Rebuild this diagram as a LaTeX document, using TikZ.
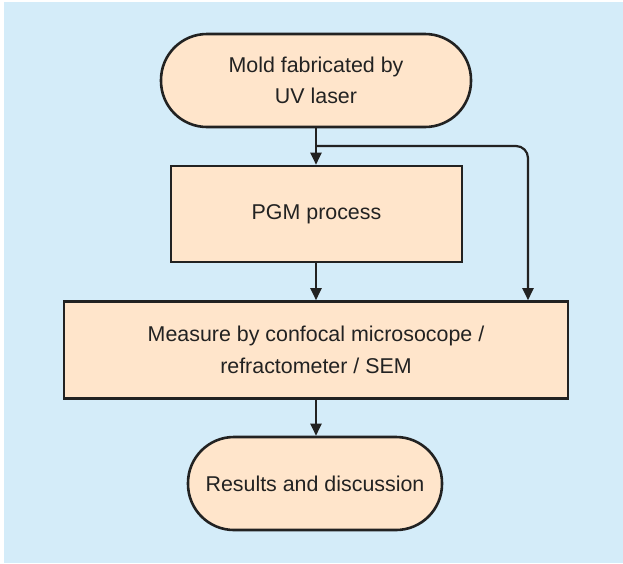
\documentclass[tikz,border=0pt]{standalone}
\usepackage{fontspec}
\setmainfont{Liberation Sans}
\usetikzlibrary{arrows.meta}
\definecolor{bgblue}{HTML}{D4ECF9}
\definecolor{peach}{HTML}{FFE5CB}
\definecolor{ink}{HTML}{222222}
\begin{document}
\begin{tikzpicture}[x=1pt,y=-1pt,
  box/.style={draw=ink,fill=peach,line width=2.6pt,align=center,text=ink,
    font=\fontsize{21.4}{31.5}\selectfont,inner sep=0pt},
  term/.style={box,rounded corners=46pt},
  conn/.style={draw=ink,line width=2.2pt,-{Triangle[width=11pt,length=12pt]}}]
\useasboundingbox (0,0) rectangle (623,563);
\fill[bgblue] (4,2) rectangle (623,563);
\node[term,minimum width=310pt,minimum height=93pt] (mold) at (316,80.5) {Mold fabricated by\\UV laser};
\node[box,minimum width=291pt,minimum height=96pt] (pgm) at (316.5,214) {PGM process};
\node[box,minimum width=504pt,minimum height=97pt] (meas) at (316,350) {Measure by confocal microsocope /\\refractometer / SEM};
\node[term,minimum width=254pt,minimum height=93pt] (res) at (315,483.5) {Results and discussion};
\coordinate (br) at (316,146);
\coordinate (bc) at (528,146);
\draw[conn] (mold.south -| 316,0) -- (pgm.north -| 316,0);
\draw[conn,rounded corners=12pt] (br) -- (bc) -- (bc |- meas.north);
\draw[conn] (pgm.south -| 316,0) -- (meas.north -| 316,0);
\draw[conn] (meas.south -| 316,0) -- (res.north -| 316,0);
\end{tikzpicture}
\end{document}
